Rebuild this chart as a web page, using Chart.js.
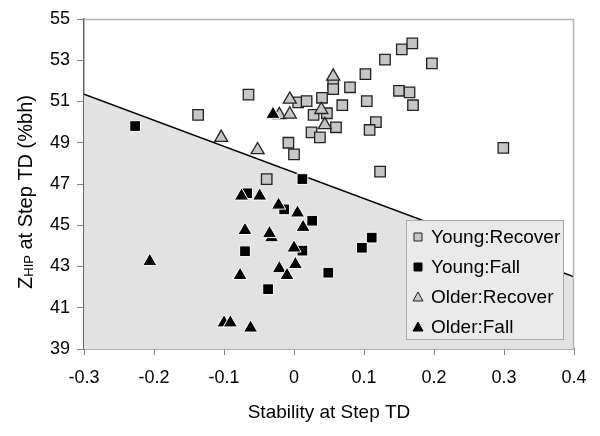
<!DOCTYPE html>
<html>
<head>
<meta charset="utf-8">
<script src="https://cdn.jsdelivr.net/npm/chart.js@4.4.0/dist/chart.umd.min.js"></script>
<style>
  html, body { margin: 0; padding: 0; background: #fff; }
  #wrap { width: 600px; height: 436px; }
</style>
</head>
<body>
<div id="wrap"><canvas id="chart"></canvas></div>
<script>
// Series
const youngRecoverX = [-0.137, -0.065, 0.006, 0.018, 0.040, 0.028, 0.047, 0.025, 0.037, -0.008, 0.000, -0.039,
    0.056, 0.056, 0.080, 0.102, 0.130, 0.154, 0.169, 0.197, 0.150, 0.165, 0.170, 0.104, 0.069, 0.060, 0.117, 0.108, 0.123, 0.299];
const youngRecoverY = [50.35, 51.33, 50.96, 51.02, 51.18, 50.35, 50.43, 49.50, 49.26, 49.00, 48.44, 47.24,
    51.83, 51.60, 51.69, 52.33, 53.03, 53.53, 53.82, 52.85, 51.52, 51.44, 50.82, 51.02, 50.82, 49.75, 50.00, 49.62, 47.60, 48.75];

const youngFallX = [-0.227, 0.012, -0.067, -0.014, 0.026, -0.070, 0.012, -0.037, 0.049, 0.111, 0.097];
const youngFallY = [49.81, 47.24, 46.55, 45.77, 45.22, 43.74, 43.77, 41.90, 42.70, 44.40, 43.91];

const olderRecoverX = [-0.104, -0.052, -0.021, -0.006, -0.006, 0.039, 0.044, 0.056];
const olderRecoverY = [49.25, 48.65, 50.35, 51.10, 50.38, 50.60, 49.87, 52.22];

const olderFallX = [-0.030, -0.075, -0.049, -0.022, 0.005, 0.013, -0.070, -0.032, -0.035, 0.000, 0.002,
    -0.021, -0.010, -0.077, -0.206, -0.100, -0.091, -0.062];
const olderFallY = [50.38, 46.42, 46.42, 45.98, 45.60, 44.90, 44.75, 44.40, 44.60, 43.90, 43.10,
    42.90, 42.57, 42.57, 43.25, 40.27, 40.27, 40.02];

// Boundary line (shaded below)
const boundaryX = [-0.3, 0.4];
const boundaryY = [51.35, 42.5];

const xTicks = [-0.3, -0.2, -0.1, 0, 0.1, 0.2, 0.3, 0.4];
const yTicks = [39, 41, 43, 45, 47, 49, 51, 53, 55];

const FONT = '"Liberation Sans", Arial, sans-serif';

function toPoints(xs, ys) {
    return xs.map((x, i) => ({ x: x, y: ys[i] }));
}

// Frame on top/right, y title with subscript, legend inside plot
const decorPlugin = {
    id: 'decor',
    afterDraw(chart) {
        const ctx = chart.ctx;
        const a = chart.chartArea;
        ctx.save();

        // light gray frame top and right
        ctx.strokeStyle = '#b4b4b4';
        ctx.lineWidth = 1.5;
        ctx.beginPath();
        ctx.moveTo(a.left, a.top + 0.5);
        ctx.lineTo(a.right - 0.5, a.top + 0.5);
        ctx.lineTo(a.right - 0.5, a.bottom);
        ctx.stroke();

        // y title: Z with HIP subscript
        ctx.translate(25, 192);
        ctx.rotate(-Math.PI / 2);
        ctx.fillStyle = '#000';
        ctx.textBaseline = 'alphabetic';
        const big = '20px ' + FONT, small = '13px ' + FONT;
        const parts = [['Z', big, 0], ['HIP', small, 1], [' at Step TD (%bh)', big, 0]];
        let total = 0;
        parts.forEach(p => { ctx.font = p[1]; total += ctx.measureText(p[0]).width; });
        let cx = -total / 2;
        parts.forEach(p => {
            ctx.font = p[1];
            ctx.fillText(p[0], cx, 7 + p[2]);
            cx += ctx.measureText(p[0]).width;
        });
        ctx.restore();

        // legend
        ctx.save();
        const lx = 406, ly = 220, lw = 157, lh = 119;
        ctx.fillStyle = '#eaeaea';
        ctx.fillRect(lx, ly, lw, lh);
        ctx.strokeStyle = '#a8a8a8';
        ctx.lineWidth = 1;
        ctx.strokeRect(lx + 0.5, ly + 0.5, lw, lh);
        const items = chart.data.datasets.filter(d => d.type !== 'line');
        ctx.font = '19px ' + FONT;
        ctx.textBaseline = 'middle';
        items.forEach((d, i) => {
            const y = 237 + i * 30;
            const mx = 418;
            ctx.fillStyle = d.backgroundColor;
            ctx.strokeStyle = d.borderColor === '#ffffff' ? d.backgroundColor : d.borderColor;
            ctx.lineWidth = 1;
            ctx.beginPath();
            if (d.pointStyle === 'rect') {
                ctx.rect(mx - 4, y - 4, 8, 8);
            } else {
                ctx.moveTo(mx, y - 5);
                ctx.lineTo(mx + 5, y + 4);
                ctx.lineTo(mx - 5, y + 4);
                ctx.closePath();
            }
            ctx.fill();
            ctx.stroke();
            ctx.fillStyle = '#000';
            ctx.fillText(d.label, 431, y + 1);
        });
        ctx.restore();
    }
};

new Chart(document.getElementById('chart'), {
    type: 'scatter',
    data: {
        datasets: [
            {
                label: 'Young:Recover',
                data: toPoints(youngRecoverX, youngRecoverY),
                pointStyle: 'rect',
                pointRadius: 7.4,
                backgroundColor: '#c6c6c6',
                borderColor: '#222222',
                borderWidth: 1.3,
                order: 4
            },
            {
                label: 'Young:Fall',
                data: toPoints(youngFallX, youngFallY),
                pointStyle: 'rect',
                pointRadius: 7.6,
                backgroundColor: '#000000',
                borderColor: '#ffffff',
                borderWidth: 1,
                order: 3
            },
            {
                label: 'Older:Recover',
                data: toPoints(olderRecoverX, olderRecoverY),
                pointStyle: 'triangle',
                pointRadius: 7.5,
                backgroundColor: '#c6c6c6',
                borderColor: '#222222',
                borderWidth: 1.3,
                order: 2
            },
            {
                label: 'Older:Fall',
                data: toPoints(olderFallX, olderFallY),
                pointStyle: 'triangle',
                pointRadius: 8.2,
                backgroundColor: '#000000',
                borderColor: '#ffffff',
                borderWidth: 1,
                order: 1
            },
            {
                type: 'line',
                label: 'Boundary',
                data: toPoints(boundaryX, boundaryY),
                borderColor: '#000000',
                borderWidth: 1.5,
                backgroundColor: '#e2e2e2',
                fill: 'start',
                pointRadius: 0,
                order: 10
            }
        ]
    },
    options: {
        responsive: true,
        maintainAspectRatio: false,
        animation: false,
        layout: { padding: { top: 19, right: 26, left: 0, bottom: 0 } },
        plugins: {
            legend: { display: false },
            tooltip: { enabled: false }
        },
        scales: {
            x: {
                type: 'linear',
                min: -0.3,
                max: 0.4,
                afterFit: s => { s.height = 87; },
                afterBuildTicks: s => { s.ticks = xTicks.map(v => ({ value: v })); },
                border: { display: true, color: '#666666', width: 1.5 },
                grid: { drawOnChartArea: false, drawTicks: true, tickLength: 6, color: '#888888' },
                ticks: {
                    padding: 12,
                    color: '#000',
                    font: { family: FONT, size: 18 },
                    maxRotation: 0,
                    callback: v => String(Number(v.toFixed(1)))
                },
                title: {
                    display: true,
                    text: 'Stability at Step TD',
                    color: '#000',
                    font: { family: FONT, size: 19 },
                    padding: { top: 0, bottom: 12 }
                }
            },
            y: {
                type: 'linear',
                min: 39,
                max: 55,
                afterFit: s => { s.width = 84; },
                afterBuildTicks: s => { s.ticks = yTicks.map(v => ({ value: v })); },
                border: { display: true, color: '#666666', width: 1.5 },
                grid: { drawOnChartArea: false, drawTicks: true, tickLength: 7, color: '#888888' },
                ticks: {
                    padding: 7,
                    color: '#000',
                    font: { family: FONT, size: 18 }
                }
            }
        }
    },
    plugins: [decorPlugin]
});
</script>
</body>
</html>
